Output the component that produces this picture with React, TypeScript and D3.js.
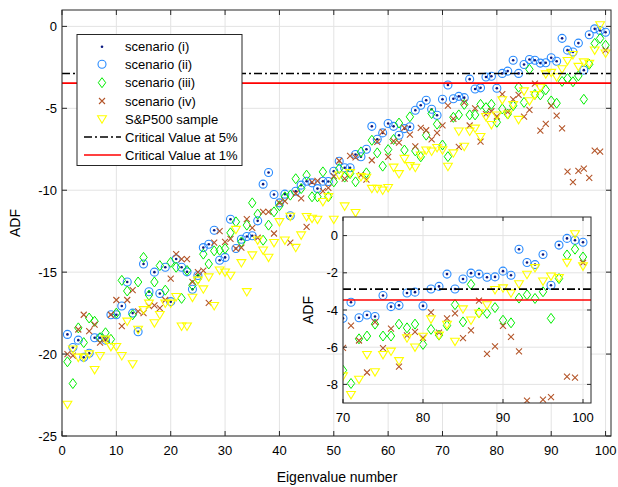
import React from "react";
import * as d3 from "d3";

// ADF statistic per eigenvalue (index 1..100)
const eigenIdx = d3.range(1, 101);

// scenario (i) and (ii) are the same series, drawn as dot and circle
const scenarioI = [
  -18.8, -19.6, -19.15, -20.2, -19.95, -19.0, -19.0, -19.15, -17.6, -17.6,
  -17.07, -15.6, -17.5, -18.64, -14.5, -16.2, -15.0, -16.3, -14.7, -16.8,
  -14.2, -14.7, -14.98, -16.04, -15.2, -13.5, -13.3, -12.44, -14.27, -14.1,
  -11.77, -13.56, -12.99, -12.82, -12.78, -11.87, -9.63, -8.92, -10.26, -10.77,
  -10.24, -11.56, -10.06, -9.69, -9.45, -9.55, -9.9, -9.45, -9.47, -8.84,
  -8.23, -8.63, -8.63, -7.82, -7.96, -7.5, -6.1, -6.89, -6.5, -5.93,
  -6.1, -6.64, -6.24, -6.13, -5.12, -4.81, -4.51, -5.06, -5.42, -4.45,
  -3.58, -4.42, -4.27, -4.35, -3.22, -3.82, -3.75, -3.09, -3.04, -3.78,
  -2.87, -2.73, -2.07, -2.87, -2.33, -2.02, -2.07, -2.24, -2.22, -1.91,
  -2.13, -0.73, -1.45, -1.56, -1.02, -2.67, -0.51, -0.15, -0.25, -0.36,
];
const scenarioII = scenarioI.slice();

const scenarioIII = [
  -20.47, -21.8, -18.4, -19.3, -17.8, -18.0, -19.0, -18.7, -19.1, -17.5,
  -15.5, -16.15, -17.6, -15.6, -14.1, -16.4, -15.6, -14.6, -16.1, -14.4,
  -14.7, -16.6, -14.9, -15.8, -15.4, -13.9, -14.5, -13.7, -13.66, -13.56,
  -12.6, -11.93, -13.15, -12.13, -10.77, -11.46, -13.05, -12.13, -11.32, -10.95,
  -10.4, -10.3, -9.3, -9.9, -9.08, -10.4, -10.4, -8.88, -10.4, -9.49,
  -8.68, -9.2, -8.98, -9.49, -7.66, -8.94, -6.95, -7.72, -8.53, -7.52,
  -6.9, -5.9, -7.55, -5.52, -7.6, -7.96, -6.64, -5.32, -5.97, -7.24,
  -7.95, -5.55, -5.4, -4.76, -5.4, -5.4, -4.76, -4.96, -4.76, -5.85,
  -5.04, -5.35, -4.84, -3.71, -4.64, -2.62, -4.15, -4.18, -3.87, -4.55,
  -4.69, -3.36, -3.18, -3.38, -3.02, -4.45, -2.31, -1.04, -0.73, -1.15,
];

const scenarioIV = [
  -20.0, -20.1, -18.5, -17.6, -18.6, -18.2, -19.3, -19.1, -17.6, -16.7,
  -18.3, -16.7, -16.1, -17.4, -17.5, -17.07, -17.03, -17.2, -16.7, -15.4,
  -13.9, -14.2, -14.2, -15.6, -15.0, -14.9, -16.87, -13.2, -12.5, -13.15,
  -12.97, -13.56, -13.5, -11.77, -12.3, -12.9, -11.32, -11.32, -12.64, -10.77,
  -10.67, -13.2, -10.2, -10.5, -12.24, -9.5, -9.43, -10.06, -9.85, -9.14,
  -8.2, -9.29, -7.9, -8.0, -9.08, -9.35, -8.17, -7.05, -6.44, -7.96,
  -7.0, -7.1, -6.2, -6.6, -7.32, -6.2, -6.34, -6.9, -6.5, -6.04,
  -4.84, -5.64, -7.36, -4.65, -6.05, -5.0, -7.04, -5.36, -5.18, -5.5,
  -4.13, -5.22, -4.45, -4.18, -5.51, -5.09, -3.49, -6.36, -5.95, -4.85,
  -5.45, -6.22, -8.87, -9.5, -8.82, -8.68, -9.25, -7.58, -7.64, -1.46,
];

const sp500 = [
  -23.07, -19.7, -20.2, -20.2, -20.0, -20.95, -20.1, -19.1, -19.55, -19.55,
  -20.1, -18.0, -20.6, -18.5, -17.3, -16.9, -18.1, -17.6, -16.9, -16.9,
  -16.5, -18.3, -18.3, -16.54, -15.5, -16.03, -15.3, -17.05, -14.88, -15.0,
  -15.2, -12.4, -14.43, -16.2, -13.96, -13.05, -13.66, -14.1, -13.2, -11.93,
  -13.05, -11.6, -13.5, -12.74, -11.62, -11.72, -11.78, -10.7, -10.4, -11.78,
  -9.08, -10.97, -8.94, -11.37, -9.18, -9.22, -9.9, -9.9, -10.0, -9.85,
  -8.6, -9.0, -8.07, -8.51, -8.61, -7.86, -7.56, -7.62, -7.4, -7.55,
  -8.55, -7.73, -6.4, -7.33, -6.4, -6.22, -6.73, -5.51, -6.0, -5.42,
  -4.49, -5.36, -4.78, -5.69, -3.95, -4.55, -4.18, -3.73, -2.91, -2.82,
  -3.09, -2.6, -2.09, -1.73, -2.45, -2.18, -2.27, -1.45, 0.09, -1.64,
];

const crit5 = -2.88;
const crit1 = -3.46;

const mainXTicks = d3.range(0, 101, 10);
const mainYTicks = [-25, -20, -15, -10, -5, 0];
const insetXTicks = [70, 80, 90, 100];
const insetYTicks = [-8, -6, -4, -2, 0];

const legendLabels = [
  "scenario (i)",
  "scenario (ii)",
  "scenario (iii)",
  "scenario (iv)",
  "S&P500 sample",
  "Critical Value at 5%",
  "Critical Value at 1%",
];

const FONT = "'Liberation Sans', Arial, Helvetica, sans-serif";
const AX = "#262626";
const GRID = "#e3e3e3";
const C_DOT = "#0b1a80";
const C_CIRC = "#2a8cff";
const C_DIA = "#00ee00";
const C_X = "#b4562a";
const C_TRI = "#ffff00";

const diamondPath = "M0,-5L3.7,0L0,5L-3.7,0Z";
const triPath = "M-4.4,-3.2L4.4,-3.2L0,4.2Z";
const xPath = "M-3,-3L3,3M-3,3L3,-3";

type Kind = "dot" | "circ" | "dia" | "x" | "tri";

const Marker = ({ kind, x, y }: { kind: Kind; x: number; y: number }) => {
  const t = `translate(${x},${y})`;
  if (kind === "dot") return <circle cx={x} cy={y} r={1.3} fill={C_DOT} />;
  if (kind === "circ")
    return <circle cx={x} cy={y} r={4} fill="none" stroke={C_CIRC} strokeWidth={1.1} />;
  if (kind === "dia")
    return <path d={diamondPath} transform={t} fill="none" stroke={C_DIA} strokeWidth={1} />;
  if (kind === "x")
    return <path d={xPath} transform={t} fill="none" stroke={C_X} strokeWidth={1.1} />;
  return <path d={triPath} transform={t} fill="none" stroke={C_TRI} strokeWidth={1.1} />;
};

const seriesList: { kind: Kind; values: number[] }[] = [
  { kind: "circ", values: scenarioII },
  { kind: "dot", values: scenarioI },
  { kind: "dia", values: scenarioIII },
  { kind: "x", values: scenarioIV },
  { kind: "tri", values: sp500 },
];

function Panel({
  id, left, right, top, bottom, xDomain, yDomain, xTicks, yTicks, tickLen,
}: {
  id: string; left: number; right: number; top: number; bottom: number;
  xDomain: [number, number]; yDomain: [number, number];
  xTicks: number[]; yTicks: number[]; tickLen: number;
}) {
  const x = d3.scaleLinear().domain(xDomain).range([left, right]);
  const y = d3.scaleLinear().domain(yDomain).range([bottom, top]);
  return (
    <g>
      <defs>
        <clipPath id={id}>
          <rect x={left} y={top} width={right - left} height={bottom - top} />
        </clipPath>
      </defs>
      <rect x={left} y={top} width={right - left} height={bottom - top} fill="#fff" />
      {xTicks.map((t) => (
        <line key={"gx" + t} x1={x(t)} x2={x(t)} y1={top} y2={bottom} stroke={GRID} />
      ))}
      {yTicks.map((t) => (
        <line key={"gy" + t} x1={left} x2={right} y1={y(t)} y2={y(t)} stroke={GRID} />
      ))}
      <g clipPath={`url(#${id})`}>
        {seriesList.map((s) =>
          s.values.map((v, i) => {
            const xi = eigenIdx[i];
            if (xi < xDomain[0] - 1) return null;
            return <Marker key={s.kind + i} kind={s.kind} x={x(xi)} y={y(v)} />;
          })
        )}
        <line x1={left} x2={right} y1={y(crit5)} y2={y(crit5)} stroke="#000"
          strokeWidth={1.6} strokeDasharray="8,3,2,3" />
        <line x1={left} x2={right} y1={y(crit1)} y2={y(crit1)} stroke="#ff0000" strokeWidth={1.6} />
      </g>
      {xTicks.map((t) => (
        <g key={"tx" + t}>
          <line x1={x(t)} x2={x(t)} y1={bottom} y2={bottom - tickLen} stroke={AX} />
          <line x1={x(t)} x2={x(t)} y1={top} y2={top + tickLen} stroke={AX} />
          <text x={x(t)} y={bottom + 19} textAnchor="middle" fontSize={13} fill="#000">{t}</text>
        </g>
      ))}
      {yTicks.map((t) => (
        <g key={"ty" + t}>
          <line x1={left} x2={left + tickLen} y1={y(t)} y2={y(t)} stroke={AX} />
          <line x1={right} x2={right - tickLen} y1={y(t)} y2={y(t)} stroke={AX} />
          <text x={left - 5} y={y(t) + 4.5} textAnchor="end" fontSize={13} fill="#000">{t}</text>
        </g>
      ))}
      <rect x={left} y={top} width={right - left} height={bottom - top} fill="none" stroke={AX} strokeWidth={1} />
    </g>
  );
}

const App = () => {
  const rows = [46.7, 64.3, 82.7, 101, 119, 137, 155];
  const kinds: Kind[] = ["dot", "circ", "dia", "x", "tri"];
  return (
    <svg width={618} height={487}
      style={{ display: "block", fontFamily: FONT, position: "absolute", top: 0, left: 0 }}>
      <rect width={618} height={487} fill="#fff" />
      <Panel id="mainClip" left={62} right={611} top={10} bottom={436}
        xDomain={[0, 101]} yDomain={[-25, 1]} xTicks={mainXTicks} yTicks={mainYTicks} tickLen={5} />
      <text x={337} y={482} textAnchor="middle" fontSize={14} fill="#000">Eigenvalue number</text>
      <text transform="translate(20,223) rotate(-90)" textAnchor="middle" fontSize={14} fill="#000">ADF</text>

      {/* legend */}
      <rect x={77} y={34.5} width={165} height={131} fill="#fff" stroke={AX} strokeWidth={1} />
      {kinds.map((k, i) => (
        <Marker key={"lg" + k} kind={k} x={102} y={rows[i]} />
      ))}
      <line x1={84} x2={121} y1={rows[5]} y2={rows[5]} stroke="#000" strokeWidth={1.6} strokeDasharray="8,3,2,3" />
      <line x1={84} x2={121} y1={rows[6]} y2={rows[6]} stroke="#ff0000" strokeWidth={1.6} />
      {legendLabels.map((l, i) => (
        <text key={l} x={125} y={rows[i] + 4.5} fontSize={13} fill="#000">{l}</text>
      ))}

      {/* inset */}
      <Panel id="insetClip" left={343} right={591} top={217} bottom={403}
        xDomain={[70, 101]} yDomain={[-9, 1]} xTicks={insetXTicks} yTicks={insetYTicks} tickLen={4} />
      <text transform="translate(313,310) rotate(-90)" textAnchor="middle" fontSize={14} fill="#000">ADF</text>
    </svg>
  );
};

export default App;
